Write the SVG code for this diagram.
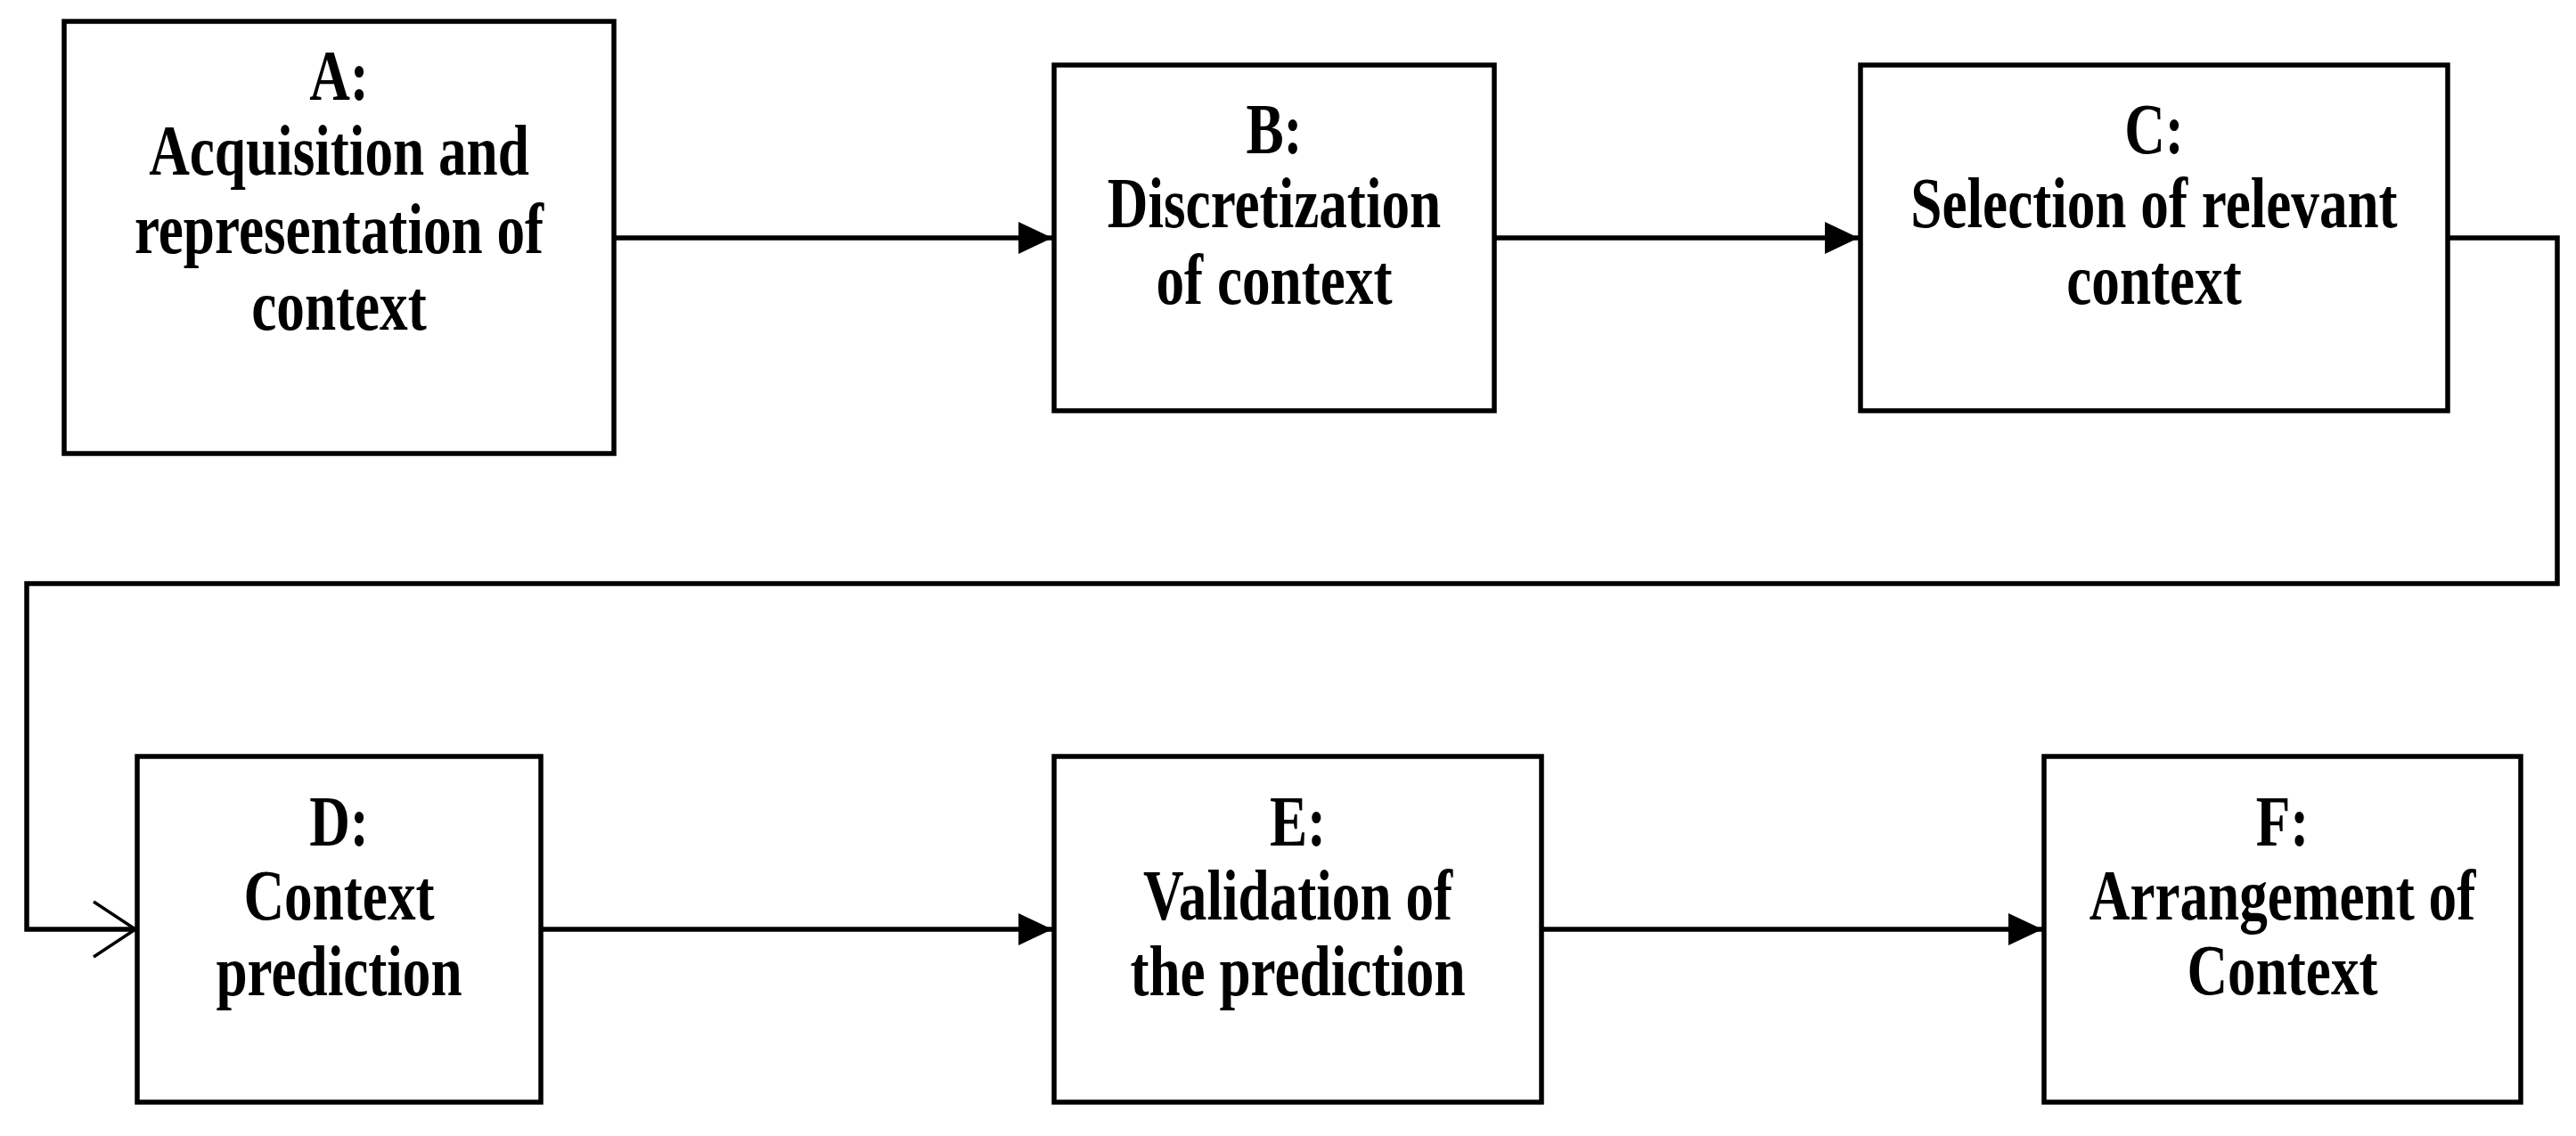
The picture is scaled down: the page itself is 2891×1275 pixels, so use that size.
<svg xmlns="http://www.w3.org/2000/svg" width="2891" height="1275" viewBox="0 0 2891 1275">
<style>
.box{fill:#fff;stroke:#000;stroke-width:5.5}
.lbl{font-family:"Liberation Serif","Times New Roman",serif;font-weight:bold;font-size:80px;fill:#000;text-anchor:middle}
.con{fill:none;stroke:#000;stroke-width:5.5}
</style>
<defs>
<marker id="fill" markerUnits="userSpaceOnUse" markerWidth="42" markerHeight="42" refX="38" refY="18" orient="auto" overflow="visible">
<path d="M0,0 L38,18 L0,36 Z" fill="#000"/>
</marker>
<marker id="open" markerUnits="userSpaceOnUse" markerWidth="50" markerHeight="66" refX="47" refY="31" orient="auto" overflow="visible">
<path d="M0,0 L47,31 L0,62" fill="none" stroke="#000" stroke-width="3.5"/>
</marker>
</defs>
<rect width="2891" height="1275" fill="#fff"/>
<g id="connectors">
<line class="con" x1="689" y1="267" x2="1181" y2="267" marker-end="url(#fill)"/>
<line class="con" x1="1677" y1="267" x2="2086" y2="267" marker-end="url(#fill)"/>
<polyline class="con" points="2747,267 2870,267 2870,655 30,655 30,1043 152,1043" marker-end="url(#open)"/>
<line class="con" x1="607" y1="1043" x2="1181" y2="1043" marker-end="url(#fill)"/>
<line class="con" x1="1730" y1="1043" x2="2292" y2="1043" marker-end="url(#fill)"/>
</g>
<g id="nodeA">
<rect class="box" x="72" y="24" width="617" height="485"/>
<text class="lbl" transform="translate(380.5 112) scale(0.79 1)">A:</text>
<text class="lbl" transform="translate(380.5 196) scale(0.79 1)">Acquisition and</text>
<text class="lbl" transform="translate(380.5 284) scale(0.79 1)">representation of</text>
<text class="lbl" transform="translate(380.5 370) scale(0.79 1)">context</text>
</g>
<g id="nodeB">
<rect class="box" x="1183" y="73" width="494" height="388"/>
<text class="lbl" transform="translate(1430 172) scale(0.79 1)">B:</text>
<text class="lbl" transform="translate(1430 255) scale(0.79 1)">Discretization</text>
<text class="lbl" transform="translate(1430 341) scale(0.79 1)">of context</text>
</g>
<g id="nodeC">
<rect class="box" x="2088" y="73" width="659" height="388"/>
<text class="lbl" transform="translate(2417.5 172) scale(0.79 1)">C:</text>
<text class="lbl" transform="translate(2417.5 255) scale(0.79 1)">Selection of relevant</text>
<text class="lbl" transform="translate(2417.5 341) scale(0.79 1)">context</text>
</g>
<g id="nodeD">
<rect class="box" x="154" y="849" width="453" height="388"/>
<text class="lbl" transform="translate(380.5 949) scale(0.79 1)">D:</text>
<text class="lbl" transform="translate(380.5 1032) scale(0.79 1)">Context</text>
<text class="lbl" transform="translate(380.5 1117) scale(0.79 1)">prediction</text>
</g>
<g id="nodeE">
<rect class="box" x="1183" y="849" width="547" height="388"/>
<text class="lbl" transform="translate(1456.5 949) scale(0.79 1)">E:</text>
<text class="lbl" transform="translate(1456.5 1032) scale(0.79 1)">Validation of</text>
<text class="lbl" transform="translate(1456.5 1117) scale(0.79 1)">the prediction</text>
</g>
<g id="nodeF">
<rect class="box" x="2294" y="849" width="535" height="388"/>
<text class="lbl" transform="translate(2561.5 949) scale(0.79 1)">F:</text>
<text class="lbl" transform="translate(2561.5 1032) scale(0.79 1)">Arrangement of</text>
<text class="lbl" transform="translate(2561.5 1116) scale(0.79 1)">Context</text>
</g>
</svg>
